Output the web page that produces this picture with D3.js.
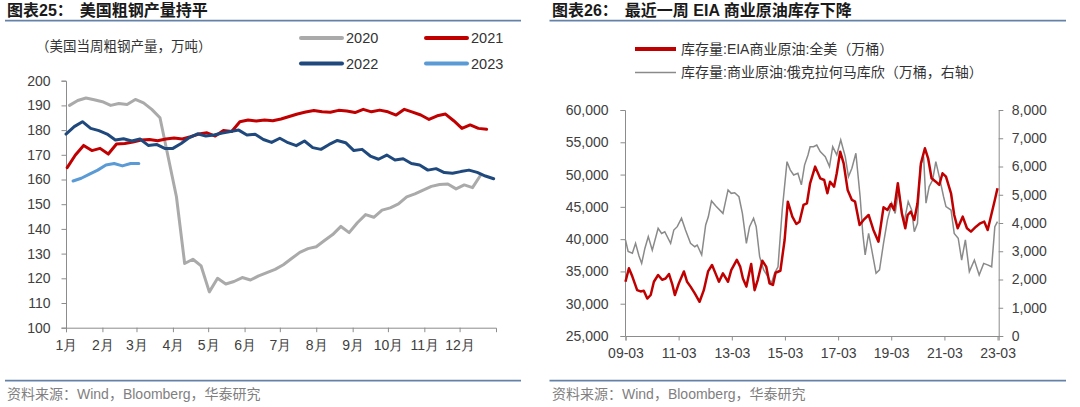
<!DOCTYPE html>
<html>
<head>
<meta charset="utf-8">
<script src="https://cdn.jsdelivr.net/npm/d3@7"></script>
<style>
body { margin: 0; background: #fff; }
svg { font-family: "Liberation Sans", "Noto Sans CJK SC", sans-serif; }
</style>
</head>
<body>
<svg id="chart" width="1080" height="407"></svg>
<script>
// ---------- chart 25: US weekly raw steel output (万吨) ----------
var monthLabels = ["1月", "2月", "3月", "4月", "5月", "6月", "7月", "8月", "9月", "10月", "11月", "12月"];
var steelYears = ["2020", "2021", "2022", "2023"];
var steelStartDay = [3, 1, 0, 6]; // day of year of the first weekly reading
var steel2020 = [190, 192, 193, 192.3, 191.5, 190, 190.8, 190.4, 192.4, 191, 188.4, 185, 169, 153, 126,
  127.7, 125, 114.5, 120, 117.7, 118.7, 120.3, 119.3, 121, 122.3, 123.6, 125.5, 128, 130.5, 132, 132.8,
  135.3, 137.7, 141, 138.5, 142.5, 145.8, 144.7, 147.6, 148.5, 150.1, 153, 154.2, 155.7, 157.2, 158,
  158.2, 156.2, 157.8, 156.7, 161.8];
var steel2021 = [164.8, 169.9, 173.8, 171.7, 172.6, 170.3, 174.4, 174.6, 175.2, 176, 176.2, 175.7, 176.4,
  176.8, 176.4, 177.3, 178.4, 178.9, 177.6, 179.8, 179.4, 183.4, 184.1, 183.7, 184.1, 183.8, 184.5, 185.5,
  186.5, 187.3, 187.9, 187.4, 187.2, 188, 187.7, 187.1, 188.4, 187.4, 188.1, 187.4, 186.1, 188.4, 187.3,
  186.1, 184.3, 185.8, 186.5, 183.8, 180.7, 182.1, 180.7, 180.3];
var steel2022 = [178.4, 181.4, 183.4, 180.7, 179.8, 178.4, 176, 176.5, 175.6, 176.4, 173.8, 174.2, 172.6,
  172.6, 174.6, 177, 178.5, 177.6, 178, 178.8, 179.4, 180, 178, 178.3, 176.2, 175, 176.7, 174.9, 173.7,
  175.6, 172.9, 172.2, 174.2, 175.8, 174.9, 171.7, 172.2, 169.5, 168.2, 169.9, 167.9, 168.4, 166.5, 165.9,
  163.8, 164.4, 162.8, 162.5, 163.2, 163.8, 162.9, 161.4, 160.3];
var steel2023 = [159.4, 160.5, 162.2, 163.8, 165.9, 166.5, 165.5, 166.5, 166.5];
var steelSeries = [steel2020, steel2021, steel2022, steel2023];
var steelColors = ["#aaaaaa", "#c00000", "#1f497d", "#5b9bd5"];

// ---------- chart 26: EIA crude stocks (万桶), t in decimal years ----------
var crudeT = [2009.16, 2009.29, 2009.42, 2009.60, 2009.73, 2009.85, 2009.98, 2010.11, 2010.23, 2010.39,
  2010.54, 2010.67, 2010.80, 2010.92, 2011.02, 2011.17, 2011.36, 2011.48, 2011.61, 2011.77, 2011.95,
  2012.11, 2012.27, 2012.42, 2012.55,
  2012.68, 2012.83, 2013.02, 2013.14, 2013.35, 2013.48, 2013.58, 2013.71, 2013.89, 2014.02, 2014.14,
  2014.31, 2014.46, 2014.58, 2014.71, 2014.81, 2014.99, 2015.15, 2015.27, 2015.44, 2015.59, 2015.71,
  2015.86, 2015.99,
  2016.11, 2016.30, 2016.49, 2016.64, 2016.76, 2016.86, 2017.01, 2017.11, 2017.24, 2017.37, 2017.52,
  2017.68, 2017.80, 2017.97, 2018.12, 2018.31, 2018.49, 2018.68, 2018.87, 2019.02, 2019.15, 2019.27,
  2019.41, 2019.56, 2019.69,
  2019.78, 2019.90, 2020.03, 2020.15, 2020.28, 2020.43, 2020.55, 2020.68, 2020.84, 2020.97, 2021.09,
  2021.22, 2021.41, 2021.53, 2021.66, 2021.85, 2022.01, 2022.16, 2022.35, 2022.51, 2022.66, 2022.79,
  2022.94, 2023.06, 2023.16];
var crudeUS = [33400, 35500, 34200, 32100, 31900, 32000, 30800, 31350, 33400, 34450,
  33700, 33900, 34600, 33050, 31350, 33150, 35000, 33400, 32650, 31600, 30300,
  32100, 35000, 36000, 34700,
  33400, 34700, 33400, 35200, 36800, 35700, 33900, 32650, 36150, 32100, 33700,
  36650, 35700, 33150, 32900, 34800, 35100, 39870, 45800, 43500, 42350, 42700,
  45300, 45550,
  48650, 51230, 49420, 49160, 47100, 48900, 48130, 50200, 53550, 51740, 47620,
  46070, 45800, 42200, 42970, 43740, 41420, 39600, 44930, 44520, 45450, 44520,
  48650, 44000, 41680,
  43740, 44260, 42970, 45550, 51740, 54070, 52520, 49420, 48900, 48390, 50200,
  49680, 47100, 43740, 41680, 43480, 41680, 41160, 41930, 42450, 42710, 41420,
  44000, 46070, 47870];
var cushingT = [2009.16, 2009.26, 2009.42, 2009.54, 2009.67, 2009.77, 2009.89, 2010.02, 2010.17, 2010.39,
  2010.52, 2010.64, 2010.86, 2010.98, 2011.11, 2011.27, 2011.42, 2011.61, 2011.77, 2011.86, 2012.03,
  2012.18, 2012.28, 2012.40, 2012.53,
  2012.58, 2012.83, 2013.02, 2013.14, 2013.27, 2013.43, 2013.56, 2013.71, 2013.83, 2013.98, 2014.08,
  2014.21, 2014.36, 2014.52, 2014.65, 2014.77, 2014.90, 2015.06, 2015.24, 2015.36, 2015.49, 2015.65,
  2015.78, 2015.90, 2016.03,
  2016.11, 2016.24, 2016.36, 2016.49, 2016.68, 2016.84, 2016.96, 2017.11, 2017.26, 2017.43, 2017.55,
  2017.68, 2017.83, 2017.99, 2018.09, 2018.18, 2018.31, 2018.43, 2018.59, 2018.72, 2018.87, 2019.02,
  2019.18, 2019.31, 2019.44, 2019.60,
  2019.65, 2019.80, 2019.93, 2020.03, 2020.15, 2020.25, 2020.38, 2020.47, 2020.59, 2020.72, 2020.84,
  2020.97, 2021.13, 2021.22, 2021.41, 2021.53, 2021.68, 2021.81, 2021.95, 2022.10, 2022.29, 2022.47,
  2022.64, 2022.81, 2022.94, 2023.06, 2023.16];
var cushing = [3400, 2990, 2930, 3280, 2830, 2570, 3100, 3520, 3040, 3810,
  3630, 3690, 3280, 3750, 3870, 4170, 3750, 3280, 3160, 3220, 2870,
  3930, 4220, 4780, 4640,
  4580, 4340, 5170, 5050, 5070, 4930, 4340, 3280, 3870, 4170, 3870,
  2810, 2340, 2100, 1860, 2220, 2450, 4460, 6170, 5880, 5700, 5760,
  5350, 6050, 6410,
  6700, 6700, 6760, 6530, 6350, 6000, 6700, 6410, 6940, 6350, 5640,
  5940, 6470, 4930, 3630, 2870, 3630, 3040, 2220, 2340, 3280, 4110,
  4700, 4340, 5170, 4170,
  4050, 4760, 4460, 3690, 3990, 5990, 6350, 4700, 5290, 5520, 6170,
  5640, 4930, 4580, 4460, 3630, 3460, 2690, 3400, 2280, 2690, 2160,
  2570, 2510, 2450, 3870, 4050];
var crudeTickYears = [2009, 2011, 2013, 2015, 2017, 2019, 2021, 2023];

var svg = d3.select("#chart");
var axisColor = "#8c8c8c", labelColor = "#404040", ruleColor = "#6482a8";

function yearToDate(t) {
  var y = Math.floor(t);
  return new Date(new Date(y, 0, 1).getTime() + (t - y) * 365.25 * 864e5);
}

function styleAxis(g) {
  g.selectAll("path, line").attr("stroke", axisColor);
  g.selectAll("text").attr("fill", labelColor).style("font-size", "14px");
}

// titles, rules and sources
function frame(x0, x1, tx, title, rest) {
  var t = svg.append("text").attr("x", tx).attr("y", 16)
    .style("font-size", "16px").style("font-weight", "bold").attr("fill", "#1a1a1a");
  t.append("tspan").text(title);
  t.append("tspan").attr("dx", 7).text(rest);
  [20.7, 380.7].forEach(function (y) {
    svg.append("line").attr("x1", x0).attr("x2", x1).attr("y1", y).attr("y2", y)
      .attr("stroke", ruleColor).attr("stroke-width", 1.8);
  });
  svg.append("text").attr("x", tx).attr("y", 399).attr("fill", "#7f7f7f")
    .style("font-size", "14px").text("资料来源：Wind，Bloomberg，华泰研究");
}
frame(5, 521, 7, "图表25：", "美国粗钢产量持平");
frame(549.5, 1066, 552, "图表26：", "最近一周 EIA 商业原油库存下降");

// ---------- chart 25 ----------
var sx = d3.scaleTime().domain([new Date(2020, 0, 1), new Date(2021, 0, 1)]).range([66, 496]);
var sy = d3.scaleLinear().domain([100, 200]).range([327.7, 80.7]);

svg.append("g").attr("transform", "translate(66,0)")
  .call(d3.axisLeft(sy).tickValues(d3.range(100, 201, 10)).tickSize(4.5).tickPadding(11))
  .call(styleAxis);
svg.append("g").attr("transform", "translate(0,327.7)")
  .call(d3.axisBottom(sx).tickValues(monthLabels.map(function (m, i) { return new Date(2020, i, 1); }))
    .tickFormat(function (d) { return monthLabels[d.getMonth()]; }).tickSize(4.5).tickPadding(8))
  .call(styleAxis);

var steelLine = d3.line()
  .x(function (d) { return sx(d.date); })
  .y(function (d) { return sy(d.v); });

steelSeries.forEach(function (vals, k) {
  var pts = vals.map(function (v, i) {
    return { date: new Date(2020, 0, 1 + steelStartDay[k] + 7 * i), v: v };
  });
  svg.append("path").datum(pts).attr("d", steelLine)
    .attr("fill", "none").attr("stroke", steelColors[k]).attr("stroke-width", 3)
    .attr("stroke-linejoin", "round").attr("stroke-linecap", "round");
});

svg.append("text").attr("x", 36).attr("y", 51).attr("fill", "#333")
  .style("font-size", "13.5px").text("（美国当周粗钢产量，万吨）");

var legPos = [[301, 38], [426, 38], [301, 63.5], [426, 63.5]];
steelYears.forEach(function (yr, k) {
  var p = legPos[k];
  svg.append("line").attr("x1", p[0]).attr("x2", p[0] + 41).attr("y1", p[1]).attr("y2", p[1])
    .attr("stroke", steelColors[k]).attr("stroke-width", 4).attr("stroke-linecap", "round");
  svg.append("text").attr("x", p[0] + 45).attr("y", p[1] + 5).attr("fill", "#333")
    .style("font-size", "14.5px").text(yr);
});

// ---------- chart 26 ----------
var cx = d3.scaleTime().domain([new Date(2009, 2, 1), new Date(2023, 2, 17)]).range([625.5, 998.7]);
var cyL = d3.scaleLinear().domain([25000, 60000]).range([336, 110]);
var cyR = d3.scaleLinear().domain([0, 8000]).range([336, 110]);

svg.append("g").attr("transform", "translate(625,0)")
  .call(d3.axisLeft(cyL).tickValues(d3.range(25000, 60001, 5000)).tickFormat(d3.format(","))
    .tickSize(4.5).tickPadding(12))
  .call(styleAxis);
svg.append("g").attr("transform", "translate(998.7,0)")
  .call(d3.axisRight(cyR).tickValues(d3.range(0, 8001, 1000)).tickFormat(d3.format(","))
    .tickSize(4.5).tickPadding(8.5))
  .call(styleAxis);
svg.append("g").attr("transform", "translate(0,336)")
  .call(d3.axisBottom(cx).tickValues(crudeTickYears.map(function (y) { return new Date(y, 2, 1); }))
    .tickFormat(d3.timeFormat("%y-%m")).tickSize(4.5).tickPadding(8))
  .call(styleAxis);

var cushLine = d3.line()
  .x(function (d, i) { return cx(yearToDate(cushingT[i])); })
  .y(function (d) { return cyR(d); });
var usLine = d3.line()
  .x(function (d, i) { return cx(yearToDate(crudeT[i])); })
  .y(function (d) { return cyL(d); });

svg.append("path").datum(cushing).attr("d", cushLine)
  .attr("fill", "none").attr("stroke", "#8a8a8a").attr("stroke-width", 1.5);
svg.append("path").datum(crudeUS).attr("d", usLine)
  .attr("fill", "none").attr("stroke", "#c00000").attr("stroke-width", 2.5)
  .attr("stroke-linejoin", "round");

var crudeLegend = [
  { y: 49, color: "#c00000", w: 4, label: "库存量:EIA商业原油:全美（万桶）" },
  { y: 72.4, color: "#8a8a8a", w: 1.5, label: "库存量:商业原油:俄克拉何马库欣（万桶，右轴）" }
];
crudeLegend.forEach(function (l) {
  svg.append("line").attr("x1", 635).attr("x2", 676).attr("y1", l.y).attr("y2", l.y)
    .attr("stroke", l.color).attr("stroke-width", l.w);
  svg.append("text").attr("x", 681).attr("y", l.y + 5).attr("fill", "#333")
    .style("font-size", "14px").text(l.label);
});
</script>
</body>
</html>
